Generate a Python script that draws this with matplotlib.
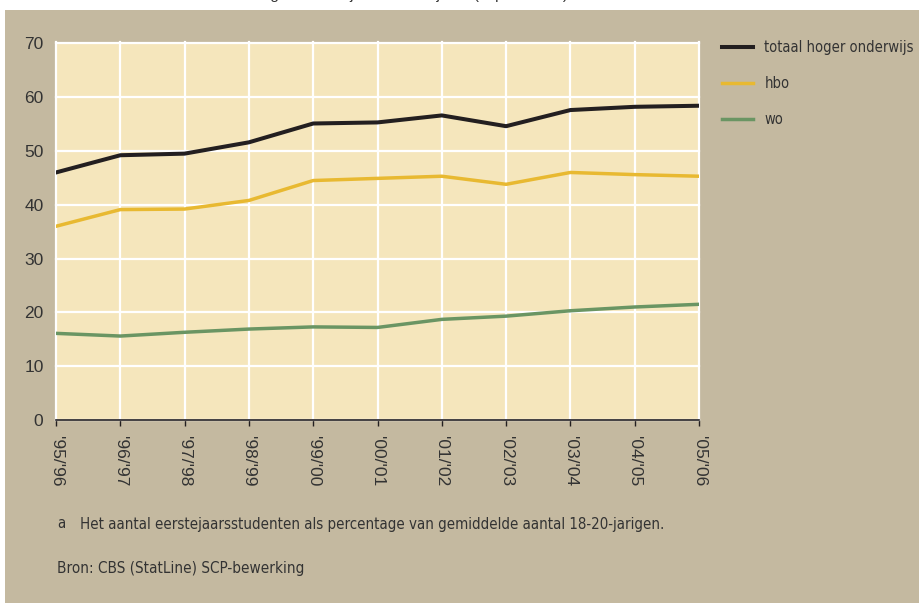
import matplotlib
matplotlib.use("Agg")
import matplotlib.pyplot as plt
from matplotlib.patches import Rectangle
from matplotlib import font_manager as fm

# ---- data ----
years = ["'95/'96", "'96/'97", "'97/'98", "'98/'99", "'99/'00", "'00/'01",
         "'01/'02", "'02/'03", "'03/'04", "'04/'05", "'05/'06"]
totaal = [46.0, 49.2, 49.5, 51.6, 55.1, 55.3, 56.6, 54.6, 57.6, 58.2, 58.4]
hbo = [36.0, 39.1, 39.2, 40.8, 44.5, 44.9, 45.3, 43.8, 46.0, 45.6, 45.3]
wo = [16.1, 15.6, 16.3, 16.9, 17.3, 17.2, 18.7, 19.3, 20.3, 21.0, 21.5]
series_labels = ["totaal hoger onderwijs", "hbo", "wo"]
yticks = [0, 10, 20, 30, 40, 50, 60, 70]
title = "Deelname aan hoger onderwijs van eerstejaars (in procenten)"
note_a = "Het aantal eerstejaarsstudenten als percentage van gemiddelde aantal 18-20-jarigen."
source = "Bron: CBS (StatLine) SCP-bewerking"

# ---- style ----
W, H = 919, 603
BG = "#C4B9A0"
PLOT_BG = "#F5E6BC"
C_TOT = "#231F20"
C_HBO = "#E8B931"
C_WO = "#6A9563"
TXT = "#333333"
REG = ["Liberation Sans", "DejaVu Sans"]

# pick a condensed font if one is installed
narrow = None
for fam, stretch in [("Liberation Sans Narrow", "normal"), ("Liberation Sans Narrow", "condensed"),
                     ("DejaVu Sans", "condensed")]:
    try:
        p = fm.findfont(fm.FontProperties(family=fam, stretch=stretch), fallback_to_default=False)
        if "Narrow" in p or "Condensed" in p:
            narrow = fm.FontProperties(fname=p)
            break
    except Exception:
        pass


def nprops(size):
    if narrow is not None:
        fp = narrow.copy()
        fp.set_size(size)
        return fp
    return fm.FontProperties(family=REG, size=size * 0.88)


fig = plt.figure(figsize=(W / 100, H / 100), dpi=100)
fig.patch.set_facecolor("white")
bgrect = Rectangle((5 / W, 0), 1 - 5 / W, 1 - 10 / H, transform=fig.transFigure,
                   facecolor=BG, edgecolor="none", zorder=-10)
fig.add_artist(bgrect)

# clipped title at the very top
fig.text(150 / W, 1 + 1.5 / H, title, fontsize=11, family=REG,
         color=TXT, ha="left", va="baseline")

left, right = 56, 699
top, bottom = 41.7, 420
ax = fig.add_axes([left / W, 1 - bottom / H, (right - left) / W, (bottom - top) / H])
ax.set_zorder(1)
ax.set_facecolor(PLOT_BG)
x = list(range(len(years)))
ax.plot(x, totaal, color=C_TOT, lw=2.9, label=series_labels[0], zorder=4)
ax.plot(x, hbo, color=C_HBO, lw=2.5, label=series_labels[1], zorder=4)
ax.plot(x, wo, color=C_WO, lw=2.5, label=series_labels[2], zorder=4)

ax.set_xlim(0, len(years) - 1)
ax.set_ylim(0, 70.3)
ax.set_yticks(yticks)
ax.set_yticklabels([str(v) for v in yticks], family=REG, fontsize=12.5, color=TXT)
ax.set_xticks(x)
ax.set_xticklabels(years, rotation=270, family=REG, fontsize=12.5, color=TXT)
ax.grid(True, color="white", lw=1.6, zorder=1)
ax.set_axisbelow(True)
for g in ax.get_xgridlines() + ax.get_ygridlines():
    g.set_clip_on(False)
for s in ["left", "right", "top"]:
    ax.spines[s].set_visible(False)
ax.spines["bottom"].set_color(C_TOT)
ax.spines["bottom"].set_linewidth(1.2)
ax.spines["bottom"].set_zorder(5)
ax.tick_params(axis="y", length=0, pad=9)
ax.tick_params(axis="x", direction="out", length=4.5, width=1.0, color=C_TOT, pad=7)

leg = fig.legend(loc="upper left", bbox_to_anchor=(722 / W, 1 - 40 / H),
                 bbox_transform=fig.transFigure, frameon=False,
                 prop=nprops(10.5), labelcolor=TXT,
                 handlelength=2.1, handletextpad=0.8, labelspacing=1.45,
                 borderpad=0, borderaxespad=0)

fig.text(57 / W, 1 - 524 / H, "a", fontproperties=nprops(10.8), color=TXT, va="center")
fig.text(80 / W, 1 - 524 / H, note_a, fontproperties=nprops(10.8), color=TXT, va="center")
fig.text(57 / W, 1 - 568 / H, source, fontproperties=nprops(11), color=TXT, va="center")

fig.savefig("out.png", dpi=100, facecolor=fig.get_facecolor())
